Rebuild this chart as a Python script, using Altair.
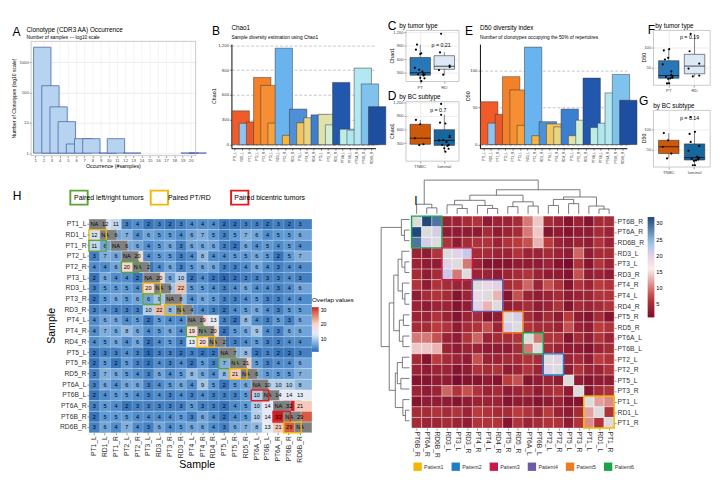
import altair as alt
import pandas as pd

FONT = "Liberation Sans"
K = 0.965


def S(v):
    return round(v * K, 2)


# ---------------------------------------------------------------- data
samples = ["PT1_L", "RD1_L", "PT1_R", "PT2_L", "PT2_R", "PT3_L", "RD3_L", "PT3_R", "RD3_R",
           "PT4_L", "PT4_R", "RD4_R", "PT5_L", "PT5_R", "RD5_R", "PT6A_L", "PT6B_L",
           "PT6A_R", "PT6B_R", "RD6B_R"]
sample_colors = ["#f15a29", "#8fc3f0", "#e8592c", "#f5802a", "#f68e33", "#f8a33c", "#69b3ef",
                 "#f8b53a", "#4d90d8", "#f0c562", "#e8d584", "#3c7fd0", "#dfe3ab", "#d2eed3",
                 "#2157ad", "#bdeee6", "#b0e6ee", "#b3e8f2", "#80c2ee", "#1d4ea0"]
sample_patient = [1, 1, 1, 2, 2, 3, 3, 3, 3, 4, 4, 4, 5, 5, 5, 6, 6, 6, 6, 6]
chao1 = [409, 258, 275, 812, 716, 261, 1165, 113, 430, 265, 325, 360, 367, 240, 752,
         187, 176, 925, 734, 459]
d50 = [58, 29, 41, 92, 74, 26, 132, 12, 31, 28, 24, 48, 12, 33, 90, 23, 29, 70, 95, 60]
tnbc_patients = [1, 2]
ttype_groups = ["PT", "RD"]
ttype_colors = ["#2878b8", "#dce8f5"]
subtype_groups = ["TNBC", "luminal"]
subtype_colors = ["#cc5a0a", "#17679f"]

occ_labels = [str(i) for i in range(1, 21)]
occ_counts = [3200, 170, 34, 11, 2, 3, 3, 0, 1, 3, 0, 1, 0, 0, 0, 0, 0, 0, 1, 1]

overlap_lower = [
    [],
    [12],
    [11, 6],
    [3, 7, 6],
    [4, 4, 6, 20],
    [2, 6, 4, 4, 2],
    [3, 5, 5, 5, 4, 20],
    [2, 5, 6, 5, 6, 6, 9],
    [3, 4, 3, 3, 3, 10, 22, 8],
    [4, 6, 6, 4, 5, 2, 5, 4, 4],
    [4, 7, 6, 8, 6, 4, 5, 6, 4, 19],
    [4, 5, 6, 4, 6, 2, 4, 5, 3, 13, 20],
    [2, 3, 3, 4, 3, 1, 3, 3, 2, 3, 2, 2],
    [2, 5, 2, 5, 3, 2, 4, 3, 4, 2, 5, 3, 7],
    [3, 7, 6, 5, 4, 3, 6, 4, 5, 8, 6, 4, 8, 21],
    [3, 6, 4, 6, 6, 3, 4, 5, 6, 4, 9, 5, 2, 5, 6],
    [2, 4, 5, 5, 4, 3, 4, 3, 4, 3, 4, 3, 3, 3, 5, 10],
    [3, 5, 4, 2, 3, 3, 3, 3, 3, 5, 3, 3, 2, 4, 5, 10, 14],
    [2, 5, 5, 5, 4, 4, 4, 4, 5, 3, 6, 4, 2, 4, 5, 10, 14, 32],
    [3, 6, 4, 7, 4, 3, 6, 4, 5, 6, 6, 4, 3, 6, 7, 8, 13, 21, 29],
]

pair_labels = ["Paired left/right tumors", "Paired PT/RD", "Paired bicentric tumors"]
pair_colors = ["#5ea536", "#f2b705", "#e31a1c"]
pair_cells = [("RD1_L", "PT1_L", 1), ("PT1_R", "PT1_L", 0), ("PT2_R", "PT2_L", 0),
              ("RD3_L", "PT3_L", 1), ("PT3_R", "PT3_L", 0), ("RD3_R", "PT3_R", 1),
              ("PT4_R", "PT4_L", 0), ("RD4_R", "PT4_R", 1), ("PT5_R", "PT5_L", 0),
              ("RD5_R", "PT5_R", 1), ("PT6B_L", "PT6A_L", 2), ("PT6B_R", "PT6A_R", 2),
              ("RD6B_R", "PT6B_R", 1)]

clust_order = ["PT6B_R", "PT6A_R", "RD6B_R", "RD3_L", "PT3_L", "RD3_R", "PT4_R", "PT4_L",
               "RD4_R", "PT5_R", "RD5_R", "PT6A_L", "PT6B_L", "PT2_L", "PT2_R", "PT5_L",
               "PT3_R", "PT1_L", "RD1_L", "PT1_R"]
patient_names = ["Patient1", "Patient2", "Patient3", "Patient4", "Patient5", "Patient6"]
patient_colors = ["#f6b500", "#1b7fc4", "#c8194a", "#6b5aa6", "#f07b1f", "#1aa34a"]
patient_blocks = [("PT6B_R", "RD6B_R", "Patient6", "dashed"), ("RD3_L", "RD3_R", "Patient3", "solid"),
                  ("PT4_R", "RD4_R", "Patient4", "solid"), ("PT5_R", "RD5_R", "Patient5", "solid"),
                  ("PT6A_L", "PT6B_L", "Patient6", "dashed"), ("PT2_L", "PT2_R", "Patient2", "solid"),
                  ("PT1_L", "PT1_R", "Patient1", "solid")]
dendro_merges = [
    ("PT6A_R", "RD6B_R", 20), ("PT6B_R", "m0", 32), ("PT3_L", "RD3_R", 18), ("RD3_L", "m2", 30),
    ("PT4_L", "RD4_R", 18), ("PT4_R", "m4", 28), ("m3", "m5", 45), ("PT5_R", "RD5_R", 24),
    ("PT6A_L", "PT6B_L", 26), ("m7", "m8", 40), ("m6", "m9", 62), ("PT2_L", "PT2_R", 28),
    ("PT5_L", "PT3_R", 34), ("m11", "m12", 48), ("RD1_L", "PT1_R", 16), ("PT1_L", "m14", 26),
    ("m13", "m15", 56), ("m10", "m16", 80), ("m1", "m17", 112),
]

# ---------------------------------------------------------------- helpers
n = len(samples)
M = [[None] * n for _ in range(n)]
for i, row in enumerate(overlap_lower):
    for j, v in enumerate(row):
        M[i][j] = v
        M[j][i] = v


def txt(t, x, y, size, align="left", color="black", angle=0):
    return alt.Chart(pd.DataFrame({"t": [t]})).mark_text(
        align=align, baseline="alphabetic", fontSize=size, font=FONT, color=color, angle=angle
    ).encode(text="t:N", x=alt.value(S(x)), y=alt.value(S(y)))


def tile(layers, W, H, L, R, T, B, view=None):
    frame = alt.Chart(pd.DataFrame({"t": [0]})).mark_rect(
        filled=False, stroke="#ff00ff", strokeWidth=0.5, opacity=0
    ).encode(x=alt.value(S(-L)), x2=alt.value(S(W + R)), y=alt.value(S(-T)), y2=alt.value(S(H + B)))
    ch = alt.layer(*layers, frame).properties(width=S(W), height=S(H))
    if view is not None:
        ch = ch.properties(view=view)
    return ch


def Z():
    return tile([txt("", 0, 0, 1)], 0.2, 0.2, 0, 0, 0, 0)


def indep(c):
    return c.resolve_scale(color="independent", fill="independent", stroke="independent",
                           strokeDash="independent").resolve_legend(
        color="independent", fill="independent", stroke="independent", strokeDash="independent")


def vc(*charts):
    return indep(alt.vconcat(*charts, spacing=0))


def hc(*charts):
    return indep(alt.hconcat(*charts, spacing=0))


FRAME = alt.ViewBackground(stroke="#b0b0b0", strokeWidth=0.7)
LET = 12.5

# ---------------------------------------------------------------- A
occ_df = pd.DataFrame({"occ": occ_labels, "n": occ_counts})
occ_df = occ_df[occ_df.n > 0]
AH = 135
ax = alt.X("occ:N", sort=occ_labels, scale=alt.Scale(domain=occ_labels, paddingInner=0.5, paddingOuter=0.3),
           axis=alt.Axis(title=None, labelAngle=0, grid=False, domain=False, labelFontSize=4.3, tickSize=2,
                         tickColor="#999", labelColor="#444", labelPadding=1))
a_grid = alt.Chart(pd.DataFrame({"occ": occ_labels})).mark_rule(color="#ececec", strokeWidth=0.6).encode(
    x=ax, y=alt.value(S(12)), y2=alt.value(S(AH)))
a_bars = alt.Chart(occ_df).transform_calculate(base="1").mark_bar(
    fill="#b6d4f0", stroke="#4a64a8", strokeWidth=0.8
).encode(
    x=ax,
    y=alt.Y("n:Q", scale=alt.Scale(type="log", domain=[0.82, 5000], nice=False, range=[S(AH), S(12)]),
            axis=alt.Axis(title=None, values=[1, 10, 100, 1000], format="d",
                          grid=True, gridColor="#ececec", domain=False, labelFontSize=4.3,
                          tickSize=2, tickColor="#999", labelColor="#444", labelPadding=1)),
    y2="base:Q",
)
a_box = alt.Chart(pd.DataFrame({"t": [0]})).mark_rect(filled=False, stroke="#b0b0b0", strokeWidth=0.7).encode(
    x=alt.value(0), x2=alt.value(S(177)), y=alt.value(S(12)), y2=alt.value(S(AH)))
A = tile([a_grid, a_bars, a_box,
          txt("A", -20, 6, LET),
          txt("Clonotype (CDR3 AA) Occurrence", -5, 2, 6.6),
          txt("Number of samples --- log10 scale", -5, 9, 5),
          txt("Occurrence (#samples)", 177 / 2, AH + 13, 5.5, align="center"),
          txt("Number of Clonotypes (log10 scale)", -16, (12 + AH) / 2, 5.2, align="center", angle=270)],
         177, AH, 23, 3, 14.5, 20)

# ---------------------------------------------------------------- B, E
div_df = pd.DataFrame({"sample": samples, "chao1": chao1, "d50": d50, "col": sample_colors})
BH = 127


def bar_layers(field, dom, ticks, ytitle, ytx, title, subtitle, letter, letter_dx):
    x = alt.X("sample:N", sort=samples, scale=alt.Scale(domain=samples, paddingInner=0.1, paddingOuter=0.08),
              axis=alt.Axis(title=None, labelAngle=270, labelFontSize=3.3, tickSize=2, domainColor="black",
                            labelColor="#333", labelPadding=1))
    y = alt.Y(f"{field}:Q", scale=alt.Scale(domain=dom, nice=False, zero=False, range=[S(BH), S(15)]),
              axis=alt.Axis(title=None, values=ticks, grid=True, gridDash=[3, 2], gridColor="#c4c4c4",
                            labelFontSize=4.5, tickSize=2, domainColor="black",
                            labelColor="#333", labelPadding=1))
    bars = alt.Chart(div_df).transform_calculate(zero="0").mark_bar(stroke="#333", strokeWidth=0.5).encode(
        x=x, y=y, y2="zero:Q", fill=alt.Fill("col:N", scale=None))
    return [bars,
            txt(letter, letter_dx, 5, LET),
            txt(title, 0, 0, 6.6),
            txt(subtitle, 0, 9, 5),
            txt(ytitle, ytx, (15 + BH) / 2, 5.5, align="center", angle=270)]


B = tile(bar_layers("chao1", [-43, 1214], [0, 300, 600, 900, 1200], "Chao1", -17, "Chao1",
                    "Sample diversity estimation using Chao1", "B", -21),
         155, BH, 25, 2, 7, 28)
E = tile(bar_layers("d50", [-5, 136], [0, 50, 100], "D50", -11, "D50 diversity index",
                    "Number of clonotypes occupying the 50% of repertoires", "E", -16),
         158, BH, 19, 1, 7, 28)

# ---------------------------------------------------------------- C, D, F, G
ttypes = [s[:2] for s in samples]
subtypes = ["TNBC" if p in tnbc_patients else "luminal" for p in sample_patient]
box_df = pd.DataFrame({
    "sample": samples,
    "idx": list(range(n)),
    "chao1": chao1,
    "d50": d50,
    "ttype": ttypes,
    "subtype": subtypes,
    "ttype_col": [ttype_colors[ttype_groups.index(t)] for t in ttypes],
    "subtype_col": [subtype_colors[subtype_groups.index(t)] for t in subtypes],
})


def box_layers(field, group, groups, dom, ticks, ytitle, ytx, h, title, letter, lx, ly, tx, ty,
               ptxt, px, py):
    base = alt.Chart(box_df)
    x = alt.X(f"{group}:N", sort=groups, scale=alt.Scale(domain=groups, paddingInner=0.2, paddingOuter=0.2),
              axis=alt.Axis(title=None, labelAngle=0, grid=True, gridColor="#ececec", domain=False,
                            labelFontSize=4.5, tickSize=2, tickColor="#999", labelColor="#444",
                            labelPadding=1))
    y = alt.Y(f"{field}:Q", scale=alt.Scale(domain=dom, nice=False, zero=False),
              axis=alt.Axis(title=None, values=ticks, grid=True, gridColor="#ececec", domain=False,
                            labelFontSize=4.2, tickSize=2, tickColor="#999",
                            labelColor="#444", labelPadding=1))
    box = base.mark_boxplot(
        extent=1.5, size=S(22), outliers=False, ticks=False,
        median={"color": "black", "strokeWidth": 1.1},
        rule={"color": "#333", "strokeWidth": 0.6},
        box={"stroke": "#333", "strokeWidth": 0.6},
    ).encode(x=x, y=y, color=alt.Color(f"{group}_col:N", scale=None))
    pts = base.transform_calculate(jit="((datum.idx * 37) % 11 - 5) / 9").mark_circle(
        size=5, color="black", opacity=1
    ).encode(x=x, y=y, xOffset=alt.XOffset("jit:Q", scale=alt.Scale(domain=[-1, 1])))
    return [box, pts,
            txt(letter, lx, ly, LET),
            txt(title, tx, ty, 6.6),
            txt(ptxt, px, py, 5.5, align="center"),
            txt(ytitle, ytx, h / 2, 5.5, align="center", angle=270)]


C = tile(box_layers("chao1", "ttype", ttype_groups, [110, 1244], [300, 600, 900, 1200], "Chao1", -13,
                    55, "by tumor type", "C", -19.5, 0, -7, -2, "p = 0.21", 38, 18),
         57, 55, 20, 2, 7, 6, view=FRAME)
D = tile(box_layers("chao1", "subtype", subtype_groups, [-93, 1219], [300, 600, 900, 1200],
                    "Chao1", -13, 64, "by BC subtype", "D", -19.5, -2, -7, -3, "p = 0.7", 35, 11),
         57, 64, 20, 2, 12, 8, view=FRAME)
F = tile(box_layers("d50", "ttype", ttype_groups, [8, 141], [50, 100], "D50", -8,
                    59, "by tumor type", "F", -6, 4, 2, -2, "p = 0.19", 39, 9),
         61, 59, 16, 3, 7, 8, view=FRAME)
G = tile(box_layers("d50", "subtype", subtype_groups, [8, 149], [50, 100], "D50", -8,
                    61, "by BC subtype", "G", -15.5, -6, 0, -2, "p = 0.14", 39, 11),
         61, 61, 16, 3, 16, 8, view=FRAME)

# ---------------------------------------------------------------- H heatmap
h_rows = []
for i, r in enumerate(samples):
    for j, c in enumerate(samples):
        v = M[i][j]
        h_rows.append({"row": r, "col": c, "val": v, "lab": "NA" if v is None else str(v)})
h_all = pd.DataFrame(h_rows)
h_val = h_all[h_all.lab != "NA"].copy()
h_val["val"] = h_val["val"].astype(int)
h_diag = h_all[h_all.lab == "NA"][["row", "col", "lab"]]
hl_df = pd.DataFrame([{"row": r, "col": c, "kind": pair_labels[k], "kcol": pair_colors[k]}
                      for r, c, k in pair_cells])

hx = alt.X("col:N", sort=samples, scale=alt.Scale(domain=samples, paddingInner=0, paddingOuter=0),
           axis=alt.Axis(title=None, labelAngle=270, labelFontSize=7, tickSize=2,
                         domain=False, labelColor="#333", labelPadding=1))
hy = alt.Y("row:N", sort=samples, scale=alt.Scale(domain=samples, paddingInner=0, paddingOuter=0),
           axis=alt.Axis(title=None, labelFontSize=7, tickSize=2, domain=False,
                         labelColor="#333", labelPadding=1))
h_cells = alt.Chart(h_val).mark_rect(stroke="white", strokeWidth=0.4, strokeOpacity=0.6).encode(
    x=hx, y=hy,
    color=alt.Color("val:Q",
                    scale=alt.Scale(domain=[1, 5, 13, 20, 32],
                                    range=["#2a68b0", "#5f9ad4", "#e4ecf4", "#f6d8cb", "#c81e25"]),
                    legend=alt.Legend(title="Overlap values", orient="none", legendX=S(240), legendY=S(84),
                                      values=[10, 20, 30], gradientLength=S(48), gradientThickness=7,
                                      titleFontSize=6.5, labelFontSize=5.5, titleFontWeight="normal",
                                      titleFont=FONT, labelFont=FONT, titlePadding=4)))
h_na = alt.Chart(h_diag).mark_rect(color="#7f7f7f", stroke="white", strokeWidth=0.4).encode(x=hx, y=hy)
h_text = alt.Chart(h_all).mark_text(fontSize=5.8, font=FONT, color="black").encode(x=hx, y=hy, text="lab:N")
h_hl = alt.Chart(hl_df).mark_rect(filled=False, strokeWidth=1.4).encode(
    x=hx, y=hy, stroke=alt.Stroke("kcol:N", scale=None))
Hheat = tile([h_cells, h_na, h_text, h_hl,
              txt("Sample", 233 / 2, 230 + 38, 11, align="center"),
              txt("Sample", -36, 230 / 2, 11, align="center", angle=270)],
             233, 230, 85, 77, 10, 41)

pb_df = pd.DataFrame({"lab": pair_labels, "col": pair_colors, "k": ["a"] * 3})
pbx = alt.X("lab:N", sort=pair_labels,
            scale=alt.Scale(domain=pair_labels, range=[S(-20), S(236)], paddingInner=0.04, paddingOuter=0),
            axis=None)
pby = alt.Y("k:N", scale=alt.Scale(range=[S(12), S(27)], paddingInner=0, paddingOuter=0), axis=None)
pb = tile([
    alt.Chart(pb_df).mark_rect(fill="white", strokeWidth=2).encode(x=pbx, y=pby, stroke=alt.Stroke("col:N", scale=None)),
    alt.Chart(pb_df).mark_text(fontSize=7.2, font=FONT, color="black").encode(x=pbx, y=pby, text="lab:N"),
    txt("H", -82, 22, LET),
], 233, 27, 85, 77, 5, 5)

# ---------------------------------------------------------------- I heatmap
ci = {s: i for i, s in enumerate(clust_order)}
i_rows = []
for r in clust_order:
    for c in clust_order:
        v = M[samples.index(r)][samples.index(c)]
        i_rows.append({"xi": ci[c], "yi": ci[r], "val": v})
i_all = pd.DataFrame(i_rows)
i_val = i_all[i_all.val.notna()].copy()
i_diag = i_all[i_all.val.isna()][["xi", "yi"]]
labarr = "[" + ",".join(f"'{s}'" for s in clust_order) + "]"
ticks_mid = [i + 0.5 for i in range(n)]
ix_axis = alt.Axis(values=ticks_mid, labelExpr=f"{labarr}[floor(datum.value)]", labelAngle=90, title=None,
                   domain=False, grid=False, tickSize=2, labelFontSize=7, labelColor="#333", labelPadding=1)
iy_axis = alt.Axis(orient="right", values=ticks_mid, labelExpr=f"{labarr}[floor(datum.value)]", title=None,
                   domain=False, grid=False, tickSize=2, labelFontSize=7, labelColor="#333", labelPadding=1)
isx = alt.Scale(domain=[0, n], nice=False, zero=False)
isy = alt.Scale(domain=[0, n], nice=False, zero=False, reverse=True)


def ienc(fx, fy):
    return dict(x=alt.X(f"{fx}:Q", scale=isx, axis=ix_axis), x2=f"{fx}2:Q",
                y=alt.Y(f"{fy}:Q", scale=isy, axis=iy_axis), y2=f"{fy}2:Q")


i_cells = alt.Chart(i_val).transform_calculate(xi2="datum.xi + 1", yi2="datum.yi + 1").mark_rect(
    stroke="white", strokeWidth=0.5, strokeOpacity=0.7
).encode(
    color=alt.Color("val:Q",
                    scale=alt.Scale(domain=[1, 7, 16, 24, 32],
                                    range=["#7a0c2c", "#b93b3c", "#f6efef", "#9dc3e4", "#21487a"]),
                    legend=alt.Legend(title=None, orient="none", legendX=S(254), legendY=S(1),
                                      values=[5, 10, 15, 20, 25, 30], gradientLength=S(108),
                                      gradientThickness=7, labelFontSize=5.8, labelFont=FONT)),
    **ienc("xi", "yi"))
i_na = alt.Chart(i_diag).transform_calculate(xi2="datum.xi + 1", yi2="datum.yi + 1").mark_rect(
    color="#dcdcdc", stroke="white", strokeWidth=0.5).encode(**ienc("xi", "yi"))
blk_df = pd.DataFrame([{"bx": ci[a], "bx2": ci[b] + 1, "by": ci[a], "by2": ci[b] + 1,
                        "pcol": patient_colors[patient_names.index(p)], "sty": s}
                       for a, b, p, s in patient_blocks])
i_blk = alt.Chart(blk_df).mark_rect(filled=False, strokeWidth=1.5).encode(
    x=alt.X("bx:Q", scale=isx, axis=ix_axis), x2="bx2:Q",
    y=alt.Y("by:Q", scale=isy, axis=iy_axis), y2="by2:Q",
    stroke=alt.Stroke("pcol:N", scale=None),
    strokeDash=alt.StrokeDash("sty:N", scale=alt.Scale(domain=["solid", "dashed"], range=[[1, 0], [3, 2]]),
                              legend=None))
Iheat = tile([i_cells, i_na, i_blk], 218, 228, 0, 75, 0, 33)

pl_df = pd.DataFrame({"p": patient_names, "pcol": patient_colors})
plx = alt.X("p:N", sort=patient_names,
            scale=alt.Scale(domain=patient_names, range=[0, S(246)], paddingInner=0, paddingOuter=0), axis=None)
pleg = tile([
    alt.Chart(pl_df).mark_square(size=75, opacity=1).encode(
        x=plx, y=alt.value(S(8.5)), xOffset=alt.value(S(-14)), fill=alt.Fill("pcol:N", scale=None)),
    alt.Chart(pl_df).mark_text(fontSize=5.5, font=FONT, color="#333", align="left", baseline="middle",
                               dx=S(-7)).encode(x=plx, y=alt.value(S(8.5)), text="p:N"),
], 218, 15, 0, 75, 0, 0)

pos = {leaf: i + 0.5 for i, leaf in enumerate(clust_order)}
hgt = {leaf: 0 for leaf in clust_order}
segs = []
for k, (a, b, hh) in enumerate(dendro_merges):
    segs.append({"p1": pos[a], "h1": hgt[a], "p2": pos[a], "h2": hh})
    segs.append({"p1": pos[b], "h1": hgt[b], "p2": pos[b], "h2": hh})
    segs.append({"p1": pos[a], "h1": hh, "p2": pos[b], "h2": hh})
    pos[f"m{k}"] = (pos[a] + pos[b]) / 2
    hgt[f"m{k}"] = hh
seg_df = pd.DataFrame(segs)
top_d = tile([
    alt.Chart(seg_df).mark_rule(color="#555", strokeWidth=0.8).encode(
        x=alt.X("p1:Q", scale=isx, axis=None), x2="p2:Q",
        y=alt.Y("h1:Q", scale=alt.Scale(domain=[0, 114], nice=False), axis=None), y2="h2:Q"),
    txt("I", 3, 27, LET),
], 218, 37, 0, 75, 5, 0)
left_d = tile([
    alt.Chart(seg_df).mark_rule(color="#555", strokeWidth=0.8).encode(
        y=alt.Y("p1:Q", scale=isy, axis=None), y2="p2:Q",
        x=alt.X("h1:Q", scale=alt.Scale(domain=[0, 114], nice=False, reverse=True, range=[S(3), S(34)]),
                axis=None), x2="h2:Q"),
], 34, 228, 0, 0, 0, 48)
blank_i = tile([txt("", 0, 0, 1)], 34, 37, 0, 0, 5, 0)

# ---------------------------------------------------------------- layout
row1 = hc(Z(), A, B, vc(C, D), E, vc(F, G))
row2 = hc(Z(), vc(pb, Hheat), hc(vc(blank_i, left_d), vc(top_d, Iheat, pleg)))
chart = vc(row1, row2).properties(padding=0).configure(font=FONT).configure_view(
    stroke=None).configure_axis(labelFont=FONT, titleFont=FONT).configure_legend(labelFont=FONT, titleFont=FONT)

chart.save("out.html", embed_options={"renderer": "svg", "actions": False})
